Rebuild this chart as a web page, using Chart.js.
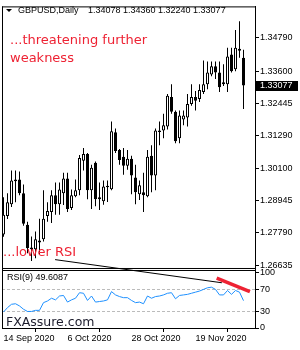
<!DOCTYPE html>
<html>
<head>
<meta charset="utf-8">
<script src="https://cdn.jsdelivr.net/npm/chart.js@4.4.1/dist/chart.umd.min.js"></script>
<style>
    html, body { margin: 0; padding: 0; background: #fff; }
    #wrap { width: 300px; height: 350px; }
</style>
</head>
<body>
<div id="wrap"><canvas id="gbpusd-chart" width="300" height="350"></canvas></div>
<script>
// GBPUSD daily, 14 Sep 2020 - 7 Dec 2020
var opens = [1.2773, 1.2840, 1.2882, 1.2964, 1.2971, 1.2921, 1.2808, 1.2727, 1.2720, 1.2745,
    1.2756, 1.2840, 1.2854, 1.2914, 1.2882, 1.2921, 1.2974, 1.2868, 1.2911, 1.2932,
    1.3038, 1.3062, 1.2932, 1.3031, 1.2907, 1.2893, 1.2943, 1.2936, 1.3140, 1.3077,
    1.3052, 1.3020, 1.3045, 1.2978, 1.2918, 1.2925, 1.2911, 1.3056, 1.2985, 1.3141,
    1.3147, 1.3161, 1.3267, 1.3214, 1.3119, 1.3186, 1.3193, 1.3242, 1.3267, 1.3260,
    1.3285, 1.3313, 1.3348, 1.3377, 1.3355, 1.3313, 1.3313, 1.3419, 1.3366, 1.3440,
    1.34078];
var highs = [1.2907, 1.2921, 1.3003, 1.3003, 1.2999, 1.2953, 1.2819, 1.2766, 1.2784, 1.2830,
    1.2932, 1.2889, 1.2932, 1.2960, 1.2960, 1.2995, 1.2995, 1.2935, 1.2971, 1.3059,
    1.3084, 1.3066, 1.3024, 1.3035, 1.2960, 1.2967, 1.2967, 1.3179, 1.3154, 1.3080,
    1.3084, 1.3077, 1.3056, 1.3024, 1.2967, 1.2995, 1.3077, 1.3094, 1.3154, 1.3179,
    1.3207, 1.3278, 1.3313, 1.3218, 1.3218, 1.3218, 1.3278, 1.3313, 1.3288, 1.3313,
    1.3398, 1.3394, 1.3394, 1.3394, 1.3394, 1.3384, 1.3444, 1.3444, 1.3507, 1.3539,
    1.34360];
var lows = [1.2765, 1.2829, 1.2872, 1.2889, 1.2914, 1.2805, 1.2706, 1.2678, 1.2688, 1.2702,
    1.2748, 1.2819, 1.2815, 1.2844, 1.2844, 1.2879, 1.2854, 1.2861, 1.2907, 1.2914,
    1.3003, 1.2900, 1.2865, 1.2875, 1.2861, 1.2880, 1.2890, 1.2932, 1.3066, 1.3024,
    1.2988, 1.3006, 1.2918, 1.2882, 1.2897, 1.2854, 1.2907, 1.2925, 1.2932, 1.3094,
    1.3119, 1.3150, 1.3207, 1.3101, 1.3101, 1.3165, 1.3161, 1.3235, 1.3218, 1.3249,
    1.3278, 1.3295, 1.3341, 1.3331, 1.3285, 1.3306, 1.3285, 1.3355, 1.3359, 1.3408,
    1.32240];
var closes = [1.2844, 1.2889, 1.2967, 1.2971, 1.2921, 1.2812, 1.2724, 1.2720, 1.2756, 1.2752,
    1.2830, 1.2858, 1.2914, 1.2882, 1.2935, 1.2974, 1.2865, 1.2914, 1.2932, 1.3048,
    1.3062, 1.2932, 1.3013, 1.2900, 1.2900, 1.2946, 1.2946, 1.3144, 1.3073, 1.3041,
    1.3020, 1.3045, 1.2985, 1.2925, 1.2950, 1.2914, 1.3052, 1.2985, 1.3147, 1.3147,
    1.3165, 1.3271, 1.3214, 1.3108, 1.3200, 1.3200, 1.3242, 1.3267, 1.3253, 1.3292,
    1.3313, 1.3355, 1.3377, 1.3355, 1.3302, 1.3320, 1.3412, 1.3359, 1.3444, 1.3433,
    1.33077];
var rsi = [29, 37, 43, 44, 40, 34, 30, 30, 32, 32,
    46, 49, 54, 51, 58, 59, 47, 51, 54, 64,
    63, 50, 58, 47, 48, 49, 51, 66, 60, 57,
    55, 55, 50, 46, 47, 44, 58, 54, 57, 58,
    60, 63, 64, 53, 59, 60, 61, 63, 65, 67,
    70, 73, 74, 70, 60, 60, 68, 61, 68, 65,
    49.6087];

var priceTicks = [1.26635, 1.27790, 1.28945, 1.30100, 1.31290, 1.32445, 1.33600, 1.34790];
var rsiTicks = [0, 30, 70, 100];
var rsiLevels = [30, 70];
var dateTickIdx = [0, 16, 32, 48];
var dateTickLabels = ['14 Sep 2020', '6 Oct 2020', '28 Oct 2020', '19 Nov 2020'];

// trend lines drawn on the RSI window (bar index, RSI value)
var trendX = [12.9, 54.6];
var trendY = [124, 82];
var redX = [53.3, 61.6];
var redY = [90.6, 66];

var smallFont = '9px "Liberation Sans", Arial, sans-serif';
var red = '#ee2233';

var idx = closes.map(function (c, i) { return i; });
var wickData = idx.map(function (i) { return { x: i, y: [lows[i], highs[i]] }; });
var bodyData = idx.map(function (i) { return { x: i, y: [opens[i], closes[i]] }; });
var rsiData = idx.map(function (i) { return { x: i, y: rsi[i] }; });
var trendData = trendX.map(function (x, i) { return { x: x, y: trendY[i] }; });
var redData = redX.map(function (x, i) { return { x: x, y: redY[i] }; });

var last = closes.length - 1;

var decor = {
    id: 'decor',
    afterDraw: function (chart) {
        var ctx = chart.ctx;
        var a = chart.chartArea;
        var py = chart.scales.y;
        var ry = chart.scales.yRsi;
        ctx.save();

        // frames
        ctx.strokeStyle = '#000';
        ctx.lineWidth = 1;
        ctx.beginPath();
        ctx.moveTo(a.left + 0.5, a.top);
        ctx.lineTo(a.left + 0.5, a.bottom);
        ctx.moveTo(a.left, a.top + 0.5);
        ctx.lineTo(a.right, a.top + 0.5);
        ctx.moveTo(a.left, py.bottom - 0.5);
        ctx.lineTo(a.right, py.bottom - 0.5);
        ctx.moveTo(a.left, ry.top + 1.5);
        ctx.lineTo(a.right, ry.top + 1.5);
        ctx.stroke();

        // title
        ctx.fillStyle = '#000';
        ctx.beginPath();
        ctx.moveTo(6, 9);
        ctx.lineTo(12, 9);
        ctx.lineTo(9, 12);
        ctx.closePath();
        ctx.fill();
        ctx.font = smallFont;
        ctx.textBaseline = 'middle';
        ctx.textAlign = 'left';
        ctx.fillText('GBPUSD,Daily', 18, 11);
        ctx.fillText([opens[last], highs[last], lows[last], closes[last]].map(function (v) {
            return v.toFixed(5);
        }).join(' '), 88, 11);

        // RSI caption
        ctx.textBaseline = 'alphabetic';
        ctx.fillText('RSI(9) ' + rsi[last].toFixed(4), 7, 280);

        // comments
        ctx.fillStyle = red;
        ctx.font = '13px "DejaVu Sans", sans-serif';
        ctx.fillText('...threatening further', 10, 44);
        ctx.fillText('weakness', 10, 62);
        ctx.fillText('...lower RSI', 3, 256);

        // watermark
        ctx.fillStyle = '#1c1c2c';
        ctx.font = '12.5px "DejaVu Sans", sans-serif';
        ctx.fillText('FXAssure.com', 6, 326);

        // current price box
        var cy = Math.round(py.getPixelForValue(closes[last]));
        ctx.fillStyle = '#000';
        ctx.fillRect(256, cy - 5, 42, 10);
        ctx.fillStyle = '#fff';
        ctx.font = smallFont;
        ctx.textBaseline = 'middle';
        ctx.fillText(closes[last].toFixed(5), 260, cy);

        ctx.restore();
    }
};

var config = {
    type: 'bar',
    data: {
        datasets: [{
            label: 'body',
            data: bodyData,
            yAxisID: 'y',
            order: 0,
            grouped: false,
            barThickness: 3,
            minBarLength: 1.5,
            inflateAmount: 0,
            borderWidth: 1,
            borderSkipped: false,
            borderColor: '#000',
            backgroundColor: idx.map(function (i) { return closes[i] >= opens[i] ? '#fff' : '#000'; })
        }, {
            label: 'wick',
            data: wickData,
            yAxisID: 'y',
            order: 1,
            grouped: false,
            barThickness: 1,
            inflateAmount: 0,
            borderWidth: 0,
            backgroundColor: '#000'
        }, {
            type: 'line',
            label: 'RSI(9)',
            data: rsiData,
            yAxisID: 'yRsi',
            order: 2,
            borderColor: '#1e90ff',
            borderWidth: 1,
            pointRadius: 0,
            tension: 0
        }, {
            type: 'line',
            label: 'trend',
            data: trendData,
            yAxisID: 'yRsi',
            order: 3,
            clip: false,
            borderColor: '#000',
            borderWidth: 1,
            pointRadius: 0
        }, {
            type: 'line',
            label: 'rsi trend',
            data: redData,
            yAxisID: 'yRsi',
            order: -1,
            clip: false,
            borderColor: red,
            borderWidth: 3.5,
            pointRadius: 0
        }]
    },
    options: {
        responsive: false,
        animation: false,
        layout: { padding: { left: 2, top: 1, right: 0, bottom: 0 } },
        plugins: { legend: { display: false }, tooltip: { enabled: false } },
        scales: {
            x: {
                type: 'linear',
                position: 'bottom',
                min: -0.375,
                max: 62.875,
                offset: false,
                afterBuildTicks: function (s) {
                    s.ticks = dateTickIdx.map(function (v) { return { value: v }; });
                },
                afterFit: function (s) { s.height = 22; },
                ticks: {
                    autoSkip: false,
                    maxRotation: 0,
                    align: 'start',
                    padding: 1,
                    color: '#000',
                    font: { family: '"Liberation Sans", Arial, sans-serif', size: 9 },
                    callback: function (v) { return dateTickLabels[dateTickIdx.indexOf(v)]; }
                },
                grid: { drawOnChartArea: false, tickLength: 4, color: '#000' },
                border: { color: '#000' }
            },
            y: {
                position: 'right',
                stack: 'panes',
                stackWeight: 267,
                min: 1.26495,
                max: 1.3592,
                afterBuildTicks: function (s) {
                    s.ticks = priceTicks.map(function (v) { return { value: v }; });
                },
                afterFit: function (s) { s.width = 45; },
                ticks: {
                    autoSkip: false,
                    padding: 1,
                    color: '#000',
                    font: { family: '"Liberation Sans", Arial, sans-serif', size: 9 },
                    callback: function (v) { return v.toFixed(5); }
                },
                grid: { drawOnChartArea: false, tickLength: 4, color: '#000' },
                border: { color: '#000' }
            },
            yRsi: {
                position: 'right',
                stack: 'panes',
                stackWeight: 60,
                min: 0,
                max: 107,
                afterBuildTicks: function (s) {
                    s.ticks = rsiTicks.map(function (v) { return { value: v }; });
                },
                afterFit: function (s) { s.width = 45; },
                ticks: {
                    autoSkip: false,
                    padding: 1,
                    color: '#000',
                    font: { family: '"Liberation Sans", Arial, sans-serif', size: 9 }
                },
                grid: {
                    drawOnChartArea: true,
                    tickLength: 4,
                    tickColor: '#000',
                    color: function (c) {
                        return c.tick && rsiLevels.indexOf(c.tick.value) >= 0 ? '#bbbbbb' : 'rgba(0,0,0,0)';
                    }
                },
                border: { color: '#000', dash: [3, 2] }
            }
        }
    },
    plugins: [decor]
};

window.onload = function () {
    var ctx = document.getElementById('gbpusd-chart').getContext('2d');
    window.gbpChart = new Chart(ctx, config);
};
</script>
</body>
</html>
